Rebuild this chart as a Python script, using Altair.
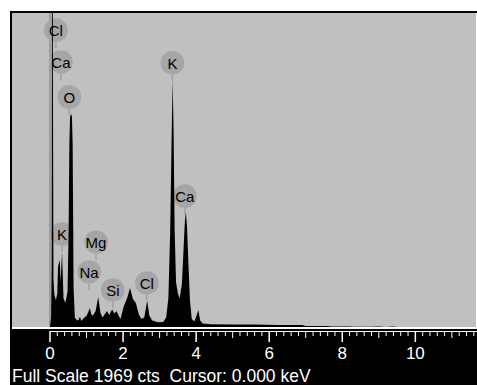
import altair as alt
import pandas as pd

# ---- spectrum (energy in keV, counts) ----
energy = [0.00, 0.03, 0.045, 0.058, 0.062, 0.072, 0.08, 0.095, 0.12, 0.16, 0.20, 0.22,
          0.27, 0.29, 0.33, 0.37, 0.42, 0.48, 0.51, 0.53, 0.55, 0.575, 0.60, 0.62, 0.645,
          0.68, 0.74, 0.78, 0.82, 0.86, 0.92, 1.00, 1.05, 1.09, 1.13, 1.17, 1.25, 1.32,
          1.38, 1.44, 1.50, 1.56, 1.62, 1.70, 1.76, 1.82, 1.88, 1.93, 2.02, 2.11, 2.19,
          2.27, 2.35, 2.43, 2.50, 2.58, 2.66, 2.72, 2.80, 2.95, 3.10, 3.18, 3.24, 3.29,
          3.33, 3.357, 3.385, 3.41, 3.45, 3.50, 3.55, 3.61, 3.65, 3.69, 3.72, 3.75, 3.79,
          3.83, 3.88, 3.95, 4.01, 4.06, 4.11, 4.18, 4.40, 5.00, 5.60, 6.20, 6.90, 7.00,
          7.60, 7.70, 8.20, 8.30, 8.80, 9.00, 9.20, 9.40, 9.50, 11.7]
counts = [0, 60, 400, 3000, 3000, 3000, 1600, 300, 200, 170, 210, 380,
          420, 280, 470, 180, 150, 220, 600, 1150, 1320, 1335, 1320, 1150, 250,
          60, 40, 45, 64, 38, 55, 70, 95, 119, 80, 70, 100, 188,
          90, 60, 80, 100, 75, 110, 85, 100, 70, 50, 130, 180, 245,
          175, 150, 80, 50, 60, 165, 70, 40, 30, 32, 60, 180, 600,
          1200, 1550, 1200, 620, 280, 210, 180, 270, 460, 660, 720, 630, 390,
          170, 50, 35, 70, 107, 40, 22, 18, 16, 15, 13, 12, 6,
          6, 3, 3, 1, 1, 3, 0, 3, 0, 0]

# ---- peak labels ----
label_text = ["Cl", "Ca", "O", "K", "Ca", "K", "Mg", "Na", "Si", "Cl"]
label_kev = [0.16, 0.30, 0.53, 3.35, 3.69, 0.33, 1.26, 1.07, 1.72, 2.65]
label_cts = [1862, 1662, 1442, 1656, 821, 583, 533, 345, 232, 276]

# ---- axis ticks ----
major_ticks = [0, 2, 4, 6, 8, 10]
tick_labels = ["0", "2", "4", "6", "8", "10"]
mid_ticks = [1, 3, 5, 7, 9, 11]
minor_ticks = [round(0.2 * i, 1) for i in range(0, 59) if i % 5 != 0]
status_text = "Full Scale 1969 cts\u00a0 Cursor: 0.000 keV"

x_domain = [-1.04, 11.66]
y_domain = [0, 1969]

W, H = 464, 314
FONT = "Liberation Sans"

xs = alt.Scale(domain=x_domain, nice=False, zero=False)
ys = alt.Scale(domain=y_domain, nice=False, zero=False)

spec_df = pd.DataFrame({"keV": energy, "cts": counts})
lab_df = pd.DataFrame({"t": label_text, "keV": label_kev, "cts": label_cts})
major_df = pd.DataFrame({"keV": major_ticks, "lab": tick_labels})
mid_df = pd.DataFrame({"keV": mid_ticks})
minor_df = pd.DataFrame({"keV": minor_ticks})
one = alt.Data(values=[{"s": status_text}])

X = lambda: alt.X("keV:Q", scale=xs, axis=None)
Y = lambda: alt.Y("cts:Q", scale=ys, axis=None)

band = alt.Chart(one).mark_rect(color="black").encode(
    x=alt.value(-2), x2=alt.value(W + 1), y=alt.value(H), y2=alt.value(H + 58))
white_line = alt.Chart(one).mark_rect(color="white").encode(
    x=alt.value(0), x2=alt.value(W + 1), y=alt.value(H), y2=alt.value(H + 2))
frame_top = alt.Chart(one).mark_rect(color="black").encode(
    x=alt.value(-2), x2=alt.value(W + 1), y=alt.value(-2), y2=alt.value(0))
frame_left = alt.Chart(one).mark_rect(color="black").encode(
    x=alt.value(-2), x2=alt.value(0), y=alt.value(-2), y2=alt.value(H + 58))

tick_base = alt.Chart(one).mark_rule(color="white", strokeWidth=1).encode(
    x=alt.datum(0, scale=xs, axis=None), x2=alt.value(W + 1), y=alt.value(H + 4.5))
minor = alt.Chart(minor_df).mark_rule(color="white", strokeWidth=1).encode(
    x=X(), y=alt.value(H + 4), y2=alt.value(H + 9))
mid = alt.Chart(mid_df).mark_rule(color="white", strokeWidth=1).encode(
    x=X(), y=alt.value(H + 4), y2=alt.value(H + 11))
major = alt.Chart(major_df).mark_rule(color="white", strokeWidth=1.5).encode(
    x=X(), y=alt.value(H + 4), y2=alt.value(H + 15))
major_lab = alt.Chart(major_df).mark_text(
    color="white", font=FONT, fontSize=17, baseline="alphabetic", align="center"
).encode(x=X(), y=alt.value(H + 32), text="lab:N")
status = alt.Chart(one).mark_text(
    color="white", font=FONT, fontSize=17.5, baseline="alphabetic", align="left"
).encode(x=alt.value(0), y=alt.value(H + 55), text="s:N")

zero_line = alt.Chart(one).mark_rule(color="#7a7a7a", strokeWidth=1).encode(
    x=alt.datum(0, scale=xs, axis=None), y=alt.value(0), y2=alt.value(H))

circles = alt.Chart(lab_df).mark_circle(size=560, color="#a6a6a6", opacity=1).encode(x=X(), y=Y())
stems = alt.Chart(lab_df).mark_rule(color="#a0a0a0", strokeWidth=1.5, yOffset=12, y2Offset=18).encode(
    x=X(), y=Y(), y2="cts:Q")
spectrum = alt.Chart(spec_df).mark_area(color="black", clip=True, interpolate="linear").encode(x=X(), y=Y())
texts = alt.Chart(lab_df).mark_text(
    font=FONT, fontSize=15, color="black", baseline="middle", align="center", dy=1
).encode(x=X(), y=Y(), text="t:N")

chart = alt.layer(
    band, white_line, frame_top, frame_left, tick_base, minor, mid, major, major_lab, status,
    zero_line, circles, stems, spectrum, texts
).properties(
    width=W, height=H,
    autosize=alt.AutoSizeParams(type="none"),
    padding={"left": 12, "top": 13, "right": 1, "bottom": 58},
    background="white",
).configure_view(fill="#c0c0c0", strokeWidth=0)

chart.save("out.html", embed_options={"renderer": "svg", "actions": False})
